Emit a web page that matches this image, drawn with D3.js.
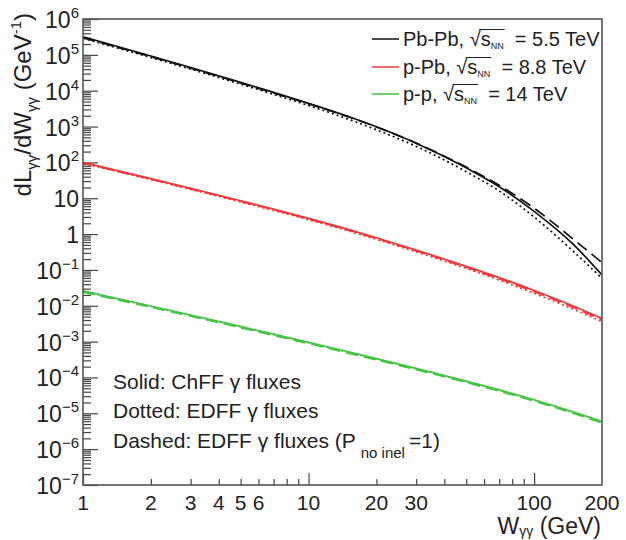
<!DOCTYPE html>
<html>
<head>
<meta charset="utf-8">
<script src="https://cdn.jsdelivr.net/npm/d3@7"></script>
<style>
  body { margin: 0; background: #fff; }
  svg { display: block; }
  text { font-family: "Liberation Sans", Arial, Helvetica, sans-serif; fill: #222; white-space: pre; }
</style>
</head>
<body>
<div id="chart"></div>
<script>
// photon-photon luminosity vs W
const wValues = [1, 2, 3, 5, 7, 10, 15, 20, 30, 50, 70, 100, 150, 200];

const pbpbSolid  = [3.2e5, 9.3e4, 4.45e4, 1.71e4, 8.97e3, 4.44e3, 1.91e3, 986, 343, 70.5, 21, 4.3, 0.50, 0.072];
const pbpbDotted = [2.9e5, 8.4e4, 4.0e4, 1.52e4, 7.9e3, 3.85e3, 1.6e3, 810, 280, 55, 16, 3.0, 0.32, 0.058];
const pbpbDashed = [3.0e5, 8.9e4, 4.25e4, 1.64e4, 8.6e3, 4.3e3, 1.87e3, 975, 345, 74, 23, 5.3, 0.7, 0.16];

const ppbSolid  = [100, 35.4, 19.0, 8.53, 4.96, 2.75, 1.35, 0.79, 0.358, 0.126, 0.061, 0.0268, 0.0097, 0.0044];
const ppbDotted = [94, 33, 17.7, 7.9, 4.57, 2.52, 1.23, 0.71, 0.32, 0.11, 0.052, 0.0224, 0.0079, 0.0036];
const ppbDashed = [96, 34, 18.2, 8.2, 4.75, 2.63, 1.29, 0.755, 0.34, 0.119, 0.057, 0.025, 0.0089, 0.0041];

const ppSolid  = [0.026, 0.00985, 0.00554, 0.00265, 0.00162, 9.56e-4, 5.2e-4, 3.36e-4, 1.79e-4, 7.9e-5, 4.49e-5, 2.38e-5, 1.08e-5, 5.9e-6];
const ppDotted = [0.0252, 0.00955, 0.00537, 0.00257, 0.00157, 9.27e-4, 5.04e-4, 3.26e-4, 1.74e-4, 7.66e-5, 4.36e-5, 2.31e-5, 1.05e-5, 5.7e-6];
const ppDashed = [0.024, 0.00906, 0.0051, 0.00244, 0.00149, 8.8e-4, 4.78e-4, 3.09e-4, 1.65e-4, 7.27e-5, 4.13e-5, 2.19e-5, 9.9e-6, 5.4e-6];

const systems = [
  { name: "Pb-Pb, ", energy: "  = 5.5 TeV", color: "#111111", solid: pbpbSolid, dotted: pbpbDotted, dashed: pbpbDashed },
  { name: "p-Pb, ",  energy: "  = 8.8 TeV", color: "#f0373a", solid: ppbSolid,  dotted: ppbDotted,  dashed: ppbDashed },
  { name: "p-p, ",   energy: "  = 14 TeV",  color: "#45c445", solid: ppSolid,   dotted: ppDotted,   dashed: ppDashed }
];

const xTickLabels = [1, 2, 3, 4, 5, 6, 10, 20, 30, 100, 200];
const yDecades = d3.range(-7, 7);
const noteLines = ["Solid: ChFF γ fluxes", "Dotted: EDFF γ fluxes", "Dashed: EDFF γ fluxes (P"];

const width = 626, height = 540;
const plotLeft = 83, plotRight = 602, plotTop = 19, plotBottom = 485;

const svg = d3.select("#chart").append("svg")
    .attr("width", width)
    .attr("height", height);

const x = d3.scaleLog().domain([1, 200]).range([plotLeft, plotRight]);
const y = d3.scaleLog().domain([1e-7, 1e6]).range([plotBottom, plotTop]);

// ticks (drawn inside the frame, ROOT style)
const yMajor = yDecades.map(n => Math.pow(10, n));
const yMinor = [];
yDecades.slice(0, -1).forEach(n => {
    for (let k = 2; k <= 9; k++) yMinor.push(k * Math.pow(10, n));
});
const xMajor = [1, 10, 100];
const xMinor = [2, 3, 4, 5, 6, 7, 8, 9, 20, 30, 40, 50, 60, 70, 80, 90];

function tickAxis(axis, tx, ty) {
    const g = svg.append("g").attr("transform", `translate(${tx},${ty})`).call(axis);
    g.select(".domain").remove();
    g.selectAll(".tick line").attr("stroke", "#444").attr("stroke-width", 1.2);
    return g;
}
tickAxis(d3.axisLeft(y).tickValues(yMajor).tickSize(-15).tickFormat(""), plotLeft, 0);
tickAxis(d3.axisLeft(y).tickValues(yMinor).tickSize(-8).tickFormat(""), plotLeft, 0);
tickAxis(d3.axisBottom(x).tickValues(xMajor).tickSize(-12).tickFormat(""), 0, plotBottom);
tickAxis(d3.axisBottom(x).tickValues(xMinor).tickSize(-6).tickFormat(""), 0, plotBottom);

// curves
svg.append("clipPath").attr("id", "plot-clip")
    .append("rect")
    .attr("x", plotLeft).attr("y", plotTop)
    .attr("width", plotRight - plotLeft).attr("height", plotBottom - plotTop);

const line = d3.line()
    .x(d => x(d[0]))
    .y(d => y(d[1]))
    .curve(d3.curveMonotoneX);

const curves = svg.append("g").attr("clip-path", "url(#plot-clip)");
const styles = [
    { key: "dotted", dash: "2,3" },
    { key: "dashed", dash: "12,6" },
    { key: "solid",  dash: null }
];
systems.forEach(s => {
    styles.forEach(st => {
        curves.append("path")
            .datum(wValues.map((w, i) => [w, s[st.key][i]]))
            .attr("fill", "none")
            .attr("stroke", s.color)
            .attr("stroke-width", 1.7)
            .attr("stroke-dasharray", st.dash)
            .attr("d", line);
    });
});

// frame
svg.append("rect")
    .attr("x", plotLeft).attr("y", plotTop)
    .attr("width", plotRight - plotLeft).attr("height", plotBottom - plotTop)
    .attr("fill", "none")
    .attr("stroke", "#555")
    .attr("stroke-width", 1.6);

// y tick labels
yDecades.forEach(n => {
    const t = svg.append("text")
        .attr("x", 79)
        .attr("y", y(Math.pow(10, n)) + 9)
        .attr("text-anchor", "end")
        .attr("font-size", 23);
    if (n === 0) t.text("1");
    else if (n === 1) t.text("10");
    else {
        t.append("tspan").text("10");
        t.append("tspan").attr("dy", -10).attr("font-size", 15).text(n < 0 ? "\u2212" + (-n) : n);
    }
});

// x tick labels
xTickLabels.forEach(v => {
    svg.append("text")
        .attr("x", x(v))
        .attr("y", 510)
        .attr("text-anchor", "middle")
        .attr("font-size", 21)
        .text(v);
});

// axis titles
const yTitle = svg.append("text")
    .attr("transform", "translate(31,13) rotate(-90)")
    .attr("text-anchor", "end")
    .attr("font-size", 24);
yTitle.append("tspan").text("dL");
yTitle.append("tspan").attr("font-size", 15).attr("dy", 6).text("γγ");
yTitle.append("tspan").attr("dy", -6).text("/dW");
yTitle.append("tspan").attr("font-size", 15).attr("dy", 6).text("γγ");
yTitle.append("tspan").attr("dy", -6).text(" (GeV");
yTitle.append("tspan").attr("font-size", 15).attr("dy", -10).text("-1");
yTitle.append("tspan").attr("dy", 10).text(")");

const xTitle = svg.append("text")
    .attr("x", 601).attr("y", 534)
    .attr("text-anchor", "end")
    .attr("font-size", 23);
xTitle.append("tspan").text("W");
xTitle.append("tspan").attr("font-size", 14).attr("dy", 2).text("γγ");
xTitle.append("tspan").attr("dy", -2).text(" (GeV)");

// legend
const legendY = [39, 67, 94];
systems.forEach((s, i) => {
    const ly = legendY[i];
    svg.append("line")
        .attr("x1", 372).attr("x2", 399)
        .attr("y1", ly).attr("y2", ly)
        .attr("stroke", s.color)
        .attr("stroke-width", 1.5);
    const t = svg.append("text")
        .attr("x", 403).attr("y", ly + 7)
        .attr("font-size", 20);
    t.append("tspan").text(s.name);
    t.append("tspan").text("\u221A");
    t.append("tspan").text("s");
    t.append("tspan").attr("font-size", 9).attr("dy", 3).text("NN");
    t.append("tspan").attr("dy", -3).text(s.energy);
    const node = t.node();
    const iRoot = s.name.length;
    const a = node.getExtentOfChar(iRoot);
    const b = node.getExtentOfChar(iRoot + 3);
    svg.append("line")
        .attr("x1", a.x + a.width - 1.5).attr("x2", b.x + b.width + 1)
        .attr("y1", ly - 9.5).attr("y2", ly - 9.5)
        .attr("stroke", "#222")
        .attr("stroke-width", 1);
});

// style note
const noteY = [389, 418, 448];
noteLines.forEach((txt, i) => {
    const t = svg.append("text")
        .attr("x", 113).attr("y", noteY[i])
        .attr("font-size", 21);
    t.append("tspan").text(txt);
    if (i === 2) {
        t.append("tspan").attr("font-size", 15).attr("dy", 10).attr("dx", 5).text("no inel");
        t.append("tspan").attr("dy", -10).attr("dx", 4).text("=1)");
    }
});
</script>
</body>
</html>
